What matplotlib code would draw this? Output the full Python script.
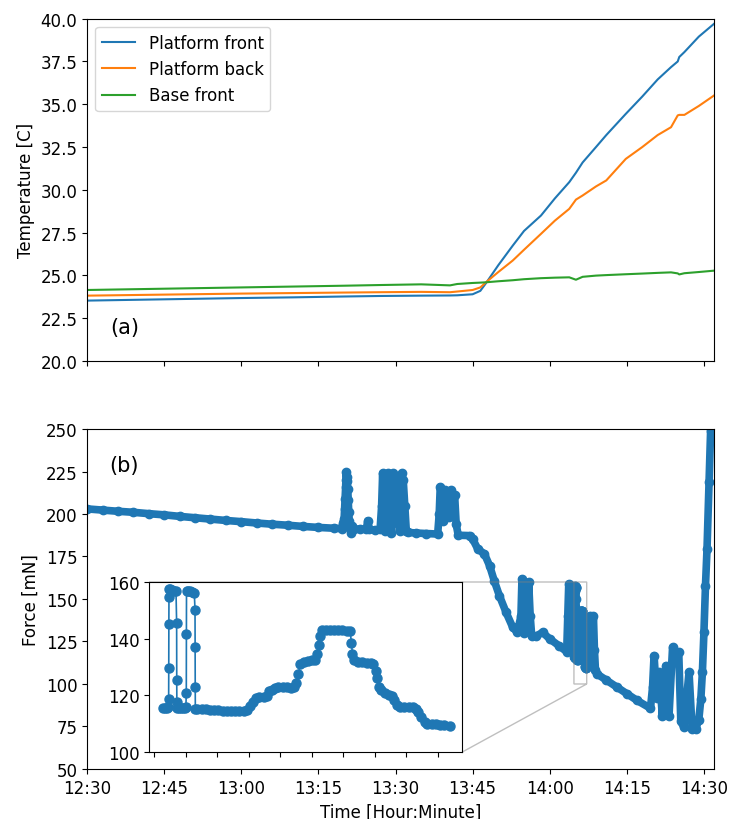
import numpy as np
import matplotlib.pyplot as plt
import matplotlib.dates as mdates
from matplotlib.ticker import NullFormatter

plt.rcParams['font.size'] = 12

# Температура: время в минутах от 12:30
temp_t = [0, 10, 20, 30, 40, 50, 57, 65, 70.6, 72, 75, 76.5, 77.6, 80, 82.8, 85,
          88.3, 91, 93.8, 95.1, 96.4, 99, 101, 104.8, 108, 111, 113.6, 114.9,
          115.2, 116.2, 119, 122]
plat_front = [23.53, 23.58, 23.63, 23.68, 23.72, 23.77, 23.8, 23.82, 23.83, 23.84, 23.9, 24.1,
              24.55, 25.6, 26.74, 27.6, 28.5, 29.5, 30.45, 31.0, 31.6, 32.5, 33.2, 34.44,
              35.45, 36.45, 37.17, 37.5, 37.76, 38.05, 38.95, 39.71]
plat_back = [23.82, 23.86, 23.9, 23.94, 23.97, 24.0, 24.02, 24.04, 24.02, 24.06, 24.15, 24.3,
             24.6, 25.2, 25.87, 26.5, 27.43, 28.2, 28.89, 29.43, 29.67, 30.2, 30.55, 31.81,
             32.5, 33.2, 33.66, 34.35, 34.38, 34.38, 34.9, 35.52]
base_front = [24.15, 24.2, 24.25, 24.3, 24.35, 24.4, 24.44, 24.48, 24.42, 24.5, 24.56, 24.58,
              24.6, 24.66, 24.72, 24.78, 24.84, 24.87, 24.89, 24.75, 24.92, 24.99, 25.02, 25.07,
              25.11, 25.15, 25.18, 25.12, 25.06, 25.13, 25.2, 25.28]

# Сила (основной график), минуты от 12:30
force_t = [0, 3, 6, 9, 12, 15, 18, 21, 24, 27, 30, 33, 36, 39, 42, 45, 48, 49.5,
           49.8, 50.0, 50.1, 50.2, 50.3, 50.35, 50.4, 50.5, 50.6, 50.7, 50.8, 50.9, 51.0,
           51.2, 51.4, 51.6, 52, 53, 54.3, 54.6, 54.9, 56, 57,
           57.3, 57.5, 57.7, 57.9, 58.3, 58.6, 58.9, 59.2, 59.6, 59.9, 60.2, 60.5, 60.8,
           61.2, 61.5, 61.8, 62.1, 62.4, 64, 66, 68.2,
           68.5, 68.7, 69.0, 69.3, 69.6, 69.9, 70.2, 70.5, 70.8, 71.2, 71.5, 71.8, 72.2, 74.4,
           75.0, 76.0, 77.3, 78.3, 79.2, 80.2, 81.5, 82.8, 83.7,
           84.4, 84.6, 84.8, 85.0, 85.3, 85.6, 85.9, 86.2, 86.5,
           87.3, 88.6, 90, 91.8, 93.3, 93.5, 93.7, 93.9, 94.1, 94.3]
force_v = [203.0, 202.3, 201.6, 201.0, 200.2, 199.5, 198.6, 197.8, 197.0, 196.2, 195.5, 194.7,
           194.0, 193.4, 192.7, 192.1, 191.6, 191.4,
           195, 197, 203, 209, 216, 220, 224.5, 222, 219.5, 215, 208, 201, 196,
           192, 189, 193, 191, 191.2, 191, 196, 191, 190.5, 191,
           205, 224, 200, 190, 212, 224, 206, 189, 224, 219, 195, 212, 190,
           224, 220, 205, 190, 189.2, 188.8, 188.5, 188.2,
           200, 216, 211, 196, 214, 205, 213, 198, 214, 202, 211, 194, 187.5, 187.3,
           185.3, 179.4, 176.5, 169.6, 160.8, 152.0, 142.2, 133.3, 130.4,
           140, 161.8, 150, 130, 155, 135, 160, 140, 128,
           128, 130.4, 126.5, 122.5, 119, 140, 158.8, 157, 140, 120]
force_t2 = [97.5, 97.7, 97.9, 98.1, 98.3, 98.5, 98.7, 98.9, 99.2, 101, 103, 105, 107, 109.6,
            110.0, 110.3, 110.8, 111.3, 111.9, 112.6, 113.2, 113.9, 114.5, 115.1, 115.5,
            116.1, 117.1, 117.7, 118.4, 119.0, 119.4, 119.7, 120.0, 120.3, 120.6, 121.0, 121.3]
force_v2 = [112, 130, 140.2, 138, 125, 140, 120, 108, 105.9, 102.3, 98.3, 94.3, 90.3, 85.7,
            98, 116.7, 92, 106.9, 81.4, 110.8, 81, 121.6, 115, 118.6, 78,
            74.5, 106.9, 73.5, 73.5, 79, 91.2, 106.9, 130.4, 157.8, 179.4, 218.6, 249]

# Врезка: секунды от 14:04:45
inset_s = [4.0, 5.0, 6.0, 6.6, 6.8, 6.85, 6.9, 6.95, 7.0, 7.5, 8.5, 9.5, 10.3,
           10.6, 10.65, 10.7, 10.8, 11.5, 12.5, 13.5, 14.5, 15.0, 15.2, 15.25, 15.3,
           16, 17, 18, 19, 19.35, 19.4, 19.45, 19.5,
           20.5, 22.5, 24.5, 26.5, 28.5, 30.5, 32.5, 34.5, 36.5, 38.5, 40.5, 42.5,
           44, 45.5, 47, 48.5, 50, 52, 53.5, 54.5, 56, 57.5, 59, 61, 63, 65, 66.5, 67.5,
           68.5, 69.5, 71, 73, 75, 76.6, 77.5, 78.2, 78.8, 79.8, 81.5, 83.5, 85.5, 87.5,
           89.5, 91.5, 93.2, 93.8, 94.3, 95, 97, 99, 101, 103, 104.3, 105.3, 105.9, 106.7,
           108, 110, 111.5, 113, 114.2, 115.3, 117, 119, 121, 123, 124.5, 125.6, 127,
           128.8, 130, 132, 134, 136, 138, 140.6]
inset_v = [115.6, 115.6, 115.7, 115.8, 118.8, 129.8, 145.3, 154.7, 157.6, 157.4, 157.3, 157.0,
           156.7, 145.5, 125.5, 117.6, 115.6, 115.5, 115.5, 115.6, 115.6, 115.8, 120.9, 141.8,
           157.0, 157.0, 156.8, 156.5, 156.2, 150.2, 137.1, 122.9, 115.3,
           115.3, 115.2, 115.1, 115.0, 114.9, 114.8, 114.6, 114.5, 114.4, 114.3, 114.3, 114.3,
           115.0, 116.2, 117.8, 119.2, 119.4, 119.4, 119.6, 121.5, 122.0, 122.6, 122.9, 122.9,
           122.8, 122.7, 123.0, 124.5, 127.5, 131.0, 131.8, 132.2, 132.3, 132.6, 134.5, 137.6,
           141.0, 143.0, 143.1, 143.1, 143.0, 143.0, 142.9, 142.8, 142.7, 138.5, 134.5, 132.3,
           131.8, 131.6, 131.5, 131.3, 131.0, 128.5, 126.0, 123.0, 122.0, 121.0, 120.2, 119.6,
           118.5, 116.5, 116.0, 116.0, 115.9, 115.9, 115.3, 114.1, 112.5, 110.6, 110.0, 110.0,
           109.9, 109.6, 109.4, 109.2]

base = np.datetime64('2021-01-01T12:30:00')


def to_time(minutes):
    return base + (np.array(minutes) * 60000).astype('timedelta64[ms]')


inset_min = list(94.75 + np.array(inset_s) / 60)
all_t = to_time(force_t + inset_min + force_t2)
all_v = force_v + inset_v + force_v2

fig = plt.figure(figsize=(7.32, 8.2), dpi=100)
ax1 = fig.add_axes([0.119, 0.5585, 0.856, 0.4175])
ax2 = fig.add_axes([0.119, 0.061, 0.856, 0.4146], sharex=ax1)

tt = to_time(temp_t)
ax1.plot(tt, plat_front, label='Platform front')
ax1.plot(tt, plat_back, label='Platform back')
ax1.plot(tt, base_front, label='Base front')
ax1.set_ylim(20, 40)
ax1.set_ylabel('Temperature [C]')
ax1.legend(loc='upper left')
ax1.text(0.037, 0.1, '(a)', transform=ax1.transAxes, fontsize=15, va='center')
plt.setp(ax1.get_xticklabels(), visible=False)

ax2.plot(all_t, all_v, 'o-', color='C0', ms=6, lw=5.5)
ax2.set_ylim(50, 250)
ax2.set_xlim(to_time([0])[0], to_time([121.9])[0])
ax2.set_ylabel('Force [mN]')
ax2.set_xlabel('Time [Hour:Minute]')
ax2.xaxis.set_major_locator(mdates.MinuteLocator(byminute=[0, 15, 30, 45]))
ax2.xaxis.set_major_formatter(mdates.DateFormatter('%H:%M'))
ax2.text(0.035, 0.894, '(b)', transform=ax2.transAxes, fontsize=15, va='center')

axins = fig.add_axes([0.204, 0.0817, 0.4276, 0.2073])
axins.plot(to_time(inset_min), inset_v, 'o-', color='C0', ms=6.5, lw=1.2)
axins.set_xlim(to_time([94.75 - 2.4 / 60])[0], to_time([94.75 + 146.6 / 60])[0])
axins.set_ylim(100, 160)
axins.set_yticks([100, 120, 140, 160])
axins.xaxis.set_major_locator(mdates.SecondLocator(bysecond=[0, 15, 30, 45]))
axins.xaxis.set_major_formatter(NullFormatter())
ax2.indicate_inset_zoom(axins, edgecolor='0.5')

fig.savefig('out.png', dpi=100)
